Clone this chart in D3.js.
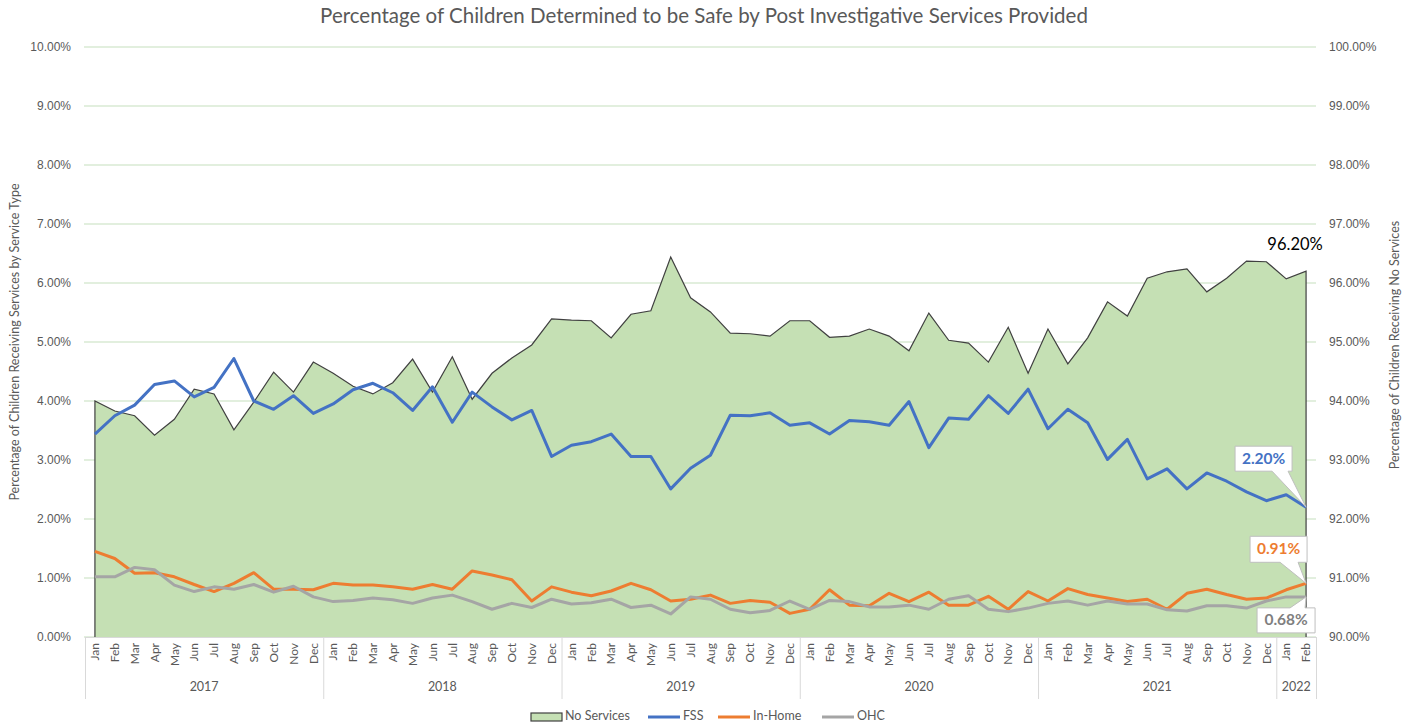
<!DOCTYPE html>
<html>
<head>
<meta charset="utf-8">
<script src="https://cdn.jsdelivr.net/npm/d3@7"></script>
<style>
  body { margin: 0; background: #fff; }
  svg { display: block; font-family: Lato, "Liberation Sans", sans-serif; }
</style>
</head>
<body>
<svg id="chart" width="1417" height="727"></svg>
<script>
// Categories
const months = ['Jan', 'Feb', 'Mar', 'Apr', 'May', 'Jun', 'Jul', 'Aug', 'Sep', 'Oct', 'Nov', 'Dec'];
const years = ['2017', '2018', '2019', '2020', '2021', '2022'];
const monthsPerYear = [12, 12, 12, 12, 12, 2];

// Series values (percent)
const noServices = [
  94.00, 93.83, 93.75, 93.42, 93.69, 94.20, 94.12, 93.51, 93.98, 94.49, 94.15, 94.66,
  94.47, 94.25, 94.12, 94.31, 94.71, 94.15, 94.75, 94.03, 94.47, 94.73, 94.95, 95.39,
  95.37, 95.36, 95.07, 95.47, 95.53, 96.44, 95.75, 95.51, 95.15, 95.14, 95.10, 95.36,
  95.36, 95.08, 95.10, 95.22, 95.10, 94.85, 95.49, 95.03, 94.98, 94.66, 95.25, 94.47,
  95.22, 94.63, 95.07, 95.68, 95.44, 96.08, 96.19, 96.24, 95.85, 96.08, 96.37, 96.36,
  96.07, 96.20
];
const fss = [
  3.44, 3.75, 3.93, 4.28, 4.34, 4.07, 4.23, 4.72, 4.00, 3.86, 4.09, 3.79,
  3.95, 4.19, 4.30, 4.14, 3.84, 4.24, 3.64, 4.15, 3.90, 3.68, 3.84, 3.06,
  3.25, 3.31, 3.44, 3.06, 3.06, 2.51, 2.86, 3.08, 3.76, 3.75, 3.80, 3.59,
  3.63, 3.44, 3.67, 3.65, 3.59, 3.99, 3.21, 3.71, 3.69, 4.09, 3.79, 4.20,
  3.53, 3.86, 3.63, 3.01, 3.35, 2.68, 2.85, 2.51, 2.78, 2.64, 2.46, 2.31,
  2.41, 2.20
];
const inHome = [
  1.45, 1.33, 1.08, 1.09, 1.02, 0.89, 0.77, 0.91, 1.09, 0.81, 0.81, 0.80,
  0.91, 0.88, 0.88, 0.85, 0.81, 0.89, 0.81, 1.12, 1.05, 0.97, 0.61, 0.85,
  0.76, 0.70, 0.78, 0.91, 0.80, 0.61, 0.64, 0.71, 0.57, 0.62, 0.59, 0.40,
  0.47, 0.80, 0.54, 0.53, 0.74, 0.60, 0.76, 0.54, 0.54, 0.69, 0.47, 0.77,
  0.61, 0.82, 0.72, 0.66, 0.60, 0.64, 0.47, 0.74, 0.81, 0.72, 0.64, 0.66,
  0.80, 0.91
];
const ohc = [
  1.02, 1.02, 1.18, 1.14, 0.88, 0.77, 0.85, 0.81, 0.89, 0.76, 0.86, 0.68,
  0.60, 0.62, 0.66, 0.63, 0.57, 0.66, 0.71, 0.60, 0.47, 0.57, 0.50, 0.64,
  0.56, 0.58, 0.64, 0.50, 0.54, 0.39, 0.68, 0.64, 0.47, 0.41, 0.45, 0.61,
  0.47, 0.62, 0.60, 0.51, 0.51, 0.54, 0.47, 0.64, 0.70, 0.47, 0.43, 0.49,
  0.57, 0.61, 0.54, 0.61, 0.56, 0.56, 0.46, 0.44, 0.53, 0.53, 0.49, 0.61,
  0.68, 0.68
];

const categories = years.flatMap((yr, j) => months.slice(0, monthsPerYear[j]).map(m => ({ month: m, year: yr })));
const n = categories.length;

const svg = d3.select('#chart');
const textColor = '#595959';
const fmt = d3.format('.2%');

const x = d3.scaleBand().domain(d3.range(n)).range([85, 1316]).padding(0);
const cx = i => x(i) + x.bandwidth() / 2;
const yL = d3.scaleLinear().domain([0, 0.10]).range([637, 47]);
const yR = d3.scaleLinear().domain([0.90, 1.00]).range([637, 47]);

// Title
svg.append('text')
  .attr('x', 704).attr('y', 18)
  .attr('text-anchor', 'middle').attr('dominant-baseline', 'middle')
  .style('font-size', '20.5px').style('fill', textColor)
  .text('Percentage of Children Determined to be Safe by Post Investigative Services Provided');

// Gridlines
svg.append('g')
  .selectAll('line')
  .data(yL.ticks(10))
  .enter().append('line')
  .attr('x1', 84).attr('x2', 1316)
  .attr('y1', d => yL(d)).attr('y2', d => yL(d))
  .attr('stroke', '#d9ead3').attr('stroke-width', 1.5);

// Category axis line
svg.append('line')
  .attr('x1', x.range()[0]).attr('x2', x.range()[1])
  .attr('y1', yL(0) + 0.5).attr('y2', yL(0) + 0.5)
  .attr('stroke', '#d9d9d9');

// Left axis
const leftAxis = svg.append('g')
  .attr('transform', 'translate(84,0)')
  .call(d3.axisLeft(yL).ticks(10).tickFormat(fmt).tickSize(0).tickPadding(13));
leftAxis.select('.domain').remove();
leftAxis.selectAll('text').style('font-size', '12px').style('fill', textColor).style('font-family', 'inherit');

// Right axis
const rightAxis = svg.append('g')
  .attr('transform', 'translate(1316,0)')
  .call(d3.axisRight(yR).ticks(10).tickFormat(fmt).tickSize(0).tickPadding(13));
rightAxis.select('.domain').remove();
rightAxis.selectAll('text').style('font-size', '12px').style('fill', textColor).style('font-family', 'inherit');

// Axis titles
svg.append('text')
  .attr('transform', 'translate(16,342) rotate(-90)')
  .attr('text-anchor', 'middle').attr('dominant-baseline', 'middle')
  .style('font-size', '12.5px').style('fill', textColor)
  .text('Percentage of Children Receiving Services by Service Type');

svg.append('text')
  .attr('transform', 'translate(1396,345) rotate(-90)')
  .attr('text-anchor', 'middle').attr('dominant-baseline', 'middle')
  .style('font-size', '12.5px').style('fill', textColor)
  .text('Percentage of Children Receiving No Services');

// No Services area (right axis)
const base = yR(0.90);
const area = d3.area()
  .x((d, i) => cx(i))
  .y0(base)
  .y1(d => yR(d / 100));

svg.append('path')
  .datum(noServices)
  .attr('d', area)
  .attr('fill', '#c5e0b4');

const outline = [[cx(0), base]]
  .concat(noServices.map((d, i) => [cx(i), yR(d / 100)]))
  .concat([[cx(n - 1), base]]);
svg.append('path')
  .attr('d', d3.line()(outline))
  .attr('fill', 'none')
  .attr('stroke', '#404040')
  .attr('stroke-width', 1.2);

// Month / year labels
const xAxis = svg.append('g');
xAxis.selectAll('.month')
  .data(categories)
  .enter().append('text')
  .attr('class', 'month')
  .attr('transform', (d, i) => `translate(${cx(i)},643) rotate(-90)`)
  .attr('text-anchor', 'end').attr('dy', '0.35em')
  .style('font-size', '12px').style('fill', textColor)
  .text(d => d.month);

let start = 0;
const yearBounds = years.map((yr, j) => {
  const b = { year: yr, s: start, e: start + monthsPerYear[j] };
  start += monthsPerYear[j];
  return b;
});
const xEdge = i => (i >= n ? x.range()[1] : x(i));

xAxis.selectAll('.sep')
  .data(yearBounds.map(b => b.s).concat([n]))
  .enter().append('line')
  .attr('x1', d => xEdge(d) + 0.5).attr('x2', d => xEdge(d) + 0.5)
  .attr('y1', 637).attr('y2', 699)
  .attr('stroke', '#d9d9d9');

xAxis.selectAll('.year')
  .data(yearBounds)
  .enter().append('text')
  .attr('x', d => (xEdge(d.s) + xEdge(d.e)) / 2)
  .attr('y', 688)
  .attr('text-anchor', 'middle').attr('dominant-baseline', 'middle')
  .style('font-size', '12.5px').style('fill', textColor)
  .text(d => d.year);

// Service lines (left axis)
const line = d3.line()
  .x((d, i) => cx(i))
  .y(d => yL(d / 100));

const series = [
  { name: 'FSS', color: '#4472c4', values: fss },
  { name: 'In-Home', color: '#ed7d31', values: inHome },
  { name: 'OHC', color: '#a5a5a5', values: ohc }
];

series.forEach(s => {
  svg.append('path')
    .datum(s.values)
    .attr('d', line)
    .attr('fill', 'none')
    .attr('stroke', s.color)
    .attr('stroke-width', 3)
    .attr('stroke-linejoin', 'round');
});

// Last point label for No Services
const last = n - 1;
svg.append('text')
  .attr('x', cx(last) - 11).attr('y', yR(noServices[last] / 100) - 25)
  .attr('text-anchor', 'middle').attr('dominant-baseline', 'middle')
  .style('font-size', '16.5px').style('fill', '#000')
  .text(fmt(noServices[last] / 100));

// Callout labels for last points
function callout(value, color, dx, dy, w, h, tailA, tailB, tailTop) {
  const px = cx(last), py = yL(value / 100);
  const l = px + dx, t = py + dy, r = l + w, b = t + h;
  let p;
  if (tailTop) {
    p = `M${l},${t}H${px + tailA}L${px},${py}L${px + tailB},${t}H${r}V${b}H${l}Z`;
  } else {
    p = `M${l},${t}H${r}V${b}H${px + tailB}L${px},${py}L${px + tailA},${b}H${l}Z`;
  }
  svg.append('path').attr('d', p)
    .attr('fill', '#fff').attr('stroke', '#bfbfbf').attr('stroke-width', 1);
  svg.append('text')
    .attr('x', l + w / 2).attr('y', t + h / 2 + 1)
    .attr('text-anchor', 'middle').attr('dominant-baseline', 'middle')
    .style('font-size', '15.5px').style('font-weight', 'bold').style('fill', color)
    .text(fmt(value / 100));
}
callout(fss[last], '#4472c4', -71, -61, 57, 25, -34, -18, false);
callout(inHome[last], '#ed7d31', -56, -47, 57, 26, -26, -8, false);
callout(ohc[last], '#7f7f7f', -49, 11, 58, 25, -16, -1, true);

// Legend
const legend = svg.append('g').style('font-size', '12.5px').style('fill', textColor);
legend.append('rect')
  .attr('x', 531).attr('y', 713).attr('width', 31).attr('height', 8)
  .attr('fill', '#c5e0b4').attr('stroke', '#404040').attr('stroke-width', 1.2);
legend.append('text').attr('x', 565).attr('y', 717).attr('dominant-baseline', 'middle').text('No Services');

const legendPos = [648, 718, 822];
series.forEach((s, i) => {
  legend.append('line')
    .attr('x1', legendPos[i]).attr('x2', legendPos[i] + 32)
    .attr('y1', 717).attr('y2', 717)
    .attr('stroke', s.color).attr('stroke-width', 3);
  legend.append('text')
    .attr('x', legendPos[i] + 35).attr('y', 717)
    .attr('dominant-baseline', 'middle')
    .text(s.name);
});
</script>
</body>
</html>
